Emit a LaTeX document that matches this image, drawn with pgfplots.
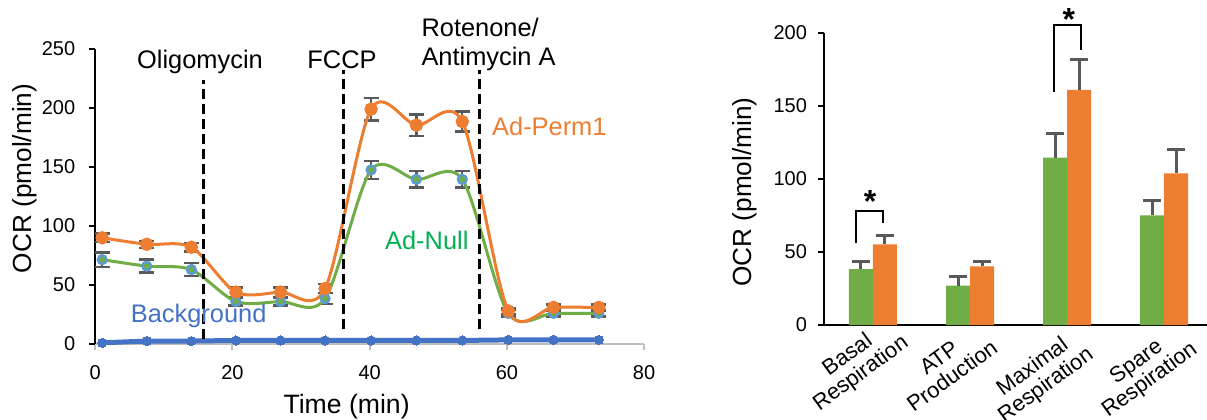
\documentclass[border=0pt]{standalone}
\usepackage{fontspec}
\setmainfont{Liberation Sans}
\usepackage{pgfplots}
\pgfplotsset{compat=1.18}
\definecolor{cOrange}{HTML}{ED7D31}
\definecolor{cGreen}{HTML}{70AD47}
\definecolor{cGreenTxt}{HTML}{00B050}
\definecolor{cBlue}{HTML}{4472C4}
\definecolor{cBlueM}{HTML}{5B9BD5}
\definecolor{cGray}{HTML}{595959}
\definecolor{cAxis}{HTML}{BFBFBF}
\tikzset{catlabel/.style={rotate=36, anchor=north east, align=center, inner sep=0pt,
        font=\fontsize{11}{11.3}\selectfont}}

% time course: t, value, error
\pgfplotstableread{
t    v     e
1.0  90.0  3.5
7.5  84.5  3.0
14.0 82.0  3.5
20.5 44.0  4.0
27.0 44.0  4.0
33.5 47.0  4.0
40.2 199.0 9.5
46.8 185.5 9.0
53.5 188.5 8.5
60.2 28.0  2.5
66.8 31.0  2.5
73.4 31.0  2.5
}\perm
\pgfplotstableread{
t    v     e
1.0  71.5  6.0
7.5  66.0  5.5
14.0 63.0  5.5
20.5 36.0  3.5
27.0 36.0  3.5
33.5 38.5  4.5
40.2 147.5 7.5
46.8 139.5 7.0
53.5 139.5 7.0
60.2 26.0  2.8
66.8 26.0  2.8
73.4 26.0  2.8
}\null
\pgfplotstableread{
t    v
1.0  1.0
7.5  2.5
14.0 2.5
20.5 3.0
27.0 3.0
33.5 3.0
40.2 3.0
46.8 3.0
53.5 3.0
60.2 3.5
66.8 3.5
73.4 3.5
}\backgr

\begin{document}
\begin{tikzpicture}
\path[use as bounding box] (0,0) rectangle (603.5pt,209.5pt);

% ---------- left: time course ----------
\begin{axis}[
    at={(47.65pt,37.5pt)}, anchor=south west,
    scale only axis, width=274.4pt, height=147.5pt,
    xmin=0, xmax=80, ymin=0, ymax=250,
    axis x line*=bottom, axis y line*=left,
    x axis line style={cAxis, line width=1pt, -},
    y axis line style={black, line width=1pt, -},
    xtick={0,20,...,80}, ytick={0,50,...,250},
    tick align=outside, major tick length=3pt,
    x tick style={cAxis, line width=1pt},
    y tick style={black, line width=1pt},
    tick label style={font=\fontsize{10}{12}\selectfont},
    xticklabel style={yshift=-4pt},
    yticklabel style={xshift=-3.5pt},
    /pgf/number format/assume math mode=true,
    clip=false,
]
\addplot[cBlue, line width=2.5pt, mark=*, mark size=2.3pt, mark options={fill=cBlue, draw=cBlue, line width=0pt}]
    table[x=t, y=v] {\backgr};

\addplot[only marks, mark=none, forget plot,
    error bars/.cd, y dir=both, y explicit,
    error bar style={cGray, line width=1.2pt},
    error mark options={cGray, rotate=90, mark size=3.75pt, line width=1.2pt}]
    table[x=t, y=v, y error=e] {\null};
\addplot[only marks, mark=none, forget plot,
    error bars/.cd, y dir=both, y explicit,
    error bar style={cGray, line width=1.2pt},
    error mark options={cGray, rotate=90, mark size=3.75pt, line width=1.2pt}]
    table[x=t, y=v, y error=e] {\perm};

\addplot[cGreen, line width=1.5pt, smooth, tension=0.5, mark=*, mark size=2.2pt,
    mark options={fill=cGreen, draw=cBlueM, line width=1.2pt}]
    table[x=t, y=v] {\null};
\addplot[cOrange, line width=1.5pt, smooth, tension=0.5, mark=*, mark size=2.6pt,
    mark options={fill=cOrange, draw=cOrange}]
    table[x=t, y=v] {\perm};

% injection lines
\draw[black, line width=1.5pt, dash pattern=on 5pt off 2.5pt] (axis cs:15.8,4) -- (axis cs:15.8,223.7);
\draw[black, line width=1.5pt, dash pattern=on 5pt off 2.5pt] (axis cs:36.15,13) -- (axis cs:36.15,232);
\draw[black, line width=1.5pt, dash pattern=on 5pt off 2.5pt] (axis cs:56.0,13) -- (axis cs:56.0,232);

\node[anchor=base, inner sep=0, font=\fontsize{12.7}{14}\selectfont] at (axis cs:15.26,233.9) {Oligomycin};
\node[anchor=base, inner sep=0, font=\fontsize{12.7}{14}\selectfont] at (axis cs:35.96,233.9) {FCCP};
\node[anchor=base west, inner sep=0, font=\fontsize{12.7}{14}\selectfont] at (axis cs:47.5,260.4) {Rotenone/};
\node[anchor=base west, inner sep=0, font=\fontsize{12.7}{14}\selectfont] at (axis cs:47.5,235.6) {Antimycin A};
\node[anchor=base west, inner sep=0, text=cOrange, font=\fontsize{12.7}{14}\selectfont] at (axis cs:57.8,177.1) {Ad-Perm1};
\node[anchor=base west, inner sep=0, text=cGreenTxt, font=\fontsize{12.7}{14}\selectfont] at (axis cs:42.2,79.7) {Ad-Null};
\node[anchor=base west, inner sep=0, text=cBlue, font=\fontsize{12.7}{14}\selectfont] at (axis cs:5.13,17.8) {Background};
\end{axis}

\node[anchor=north, rotate=90, inner sep=0, font=\fontsize{13.1}{15}\selectfont] at (6.3pt,120.3pt) {OCR (pmol/min)};
\node[anchor=base, inner sep=0, font=\fontsize{13.3}{15}\selectfont] at (173.3pt,3pt) {Time (min)};

% ---------- right: summary bars ----------
\begin{axis}[
    at={(412pt,47pt)}, anchor=south west,
    scale only axis, width=191.5pt, height=146pt,
    xmin=-0.505, xmax=3.443, ymin=0, ymax=200,
    ybar=0pt, bar width=12pt,
    axis x line*=bottom, axis y line*=left,
    axis line style={black, line width=1.2pt, -},
    xtick=\empty,
    ytick={0,50,...,200},
    tick align=outside, major tick length=3pt,
    y tick style={black, line width=1pt},
    yticklabel style={font=\fontsize{10}{12}\selectfont, xshift=-2pt},
    /pgf/number format/assume math mode=true,
    clip=false,
]
\addplot[fill=cGreen, draw=none,
    error bars/.cd, y dir=plus, y explicit,
    error bar style={cGray, line width=1.5pt},
    error mark options={cGray, rotate=90, mark size=4.5pt, line width=1.5pt}]
    coordinates {(0,38.2) +- (0,5.6) (1,26.9) +- (0,6.0) (2,114.6) +- (0,16.7) (3,75.1) +- (0,10.3)};
\addplot[fill=cOrange, draw=none,
    error bars/.cd, y dir=plus, y explicit,
    error bar style={cGray, line width=1.5pt},
    error mark options={cGray, rotate=90, mark size=4.5pt, line width=1.5pt}]
    coordinates {(0,55.2) +- (0,5.8) (1,40.2) +- (0,3.6) (2,161.0) +- (0,20.8) (3,103.9) +- (0,16.6)};

\draw[black, line width=1pt] (axis cs:-0.174,56) -- (axis cs:-0.174,78.3) -- (axis cs:0.108,78.3) -- (axis cs:0.108,69.7);
\draw[black, line width=1pt] (axis cs:1.866,159.8) -- (axis cs:1.866,205.5) -- (axis cs:2.142,205.5) -- (axis cs:2.142,188.4);
\node[anchor=north, inner sep=0, font=\fontsize{16}{16}\selectfont\bfseries] at (axis cs:-0.029,92.5) {*};
\node[anchor=north, inner sep=0, font=\fontsize{16}{16}\selectfont\bfseries] at (axis cs:2.018,216.9) {*};

% category labels
\node[catlabel] at (axis cs:0.144,7.5) {Basal\\Respiration};
\node[catlabel] at (axis cs:1.072,3.4) {ATP\\Production};
\node[catlabel] at (axis cs:2.052,-0.7) {Maximal\\Respiration};
\node[catlabel] at (axis cs:3.124,2.7) {Spare\\Respiration};
\end{axis}

\node[anchor=north, rotate=90, inner sep=0, font=\fontsize{13.1}{15}\selectfont] at (366pt,113.5pt) {OCR (pmol/min)};
\end{tikzpicture}
\end{document}
